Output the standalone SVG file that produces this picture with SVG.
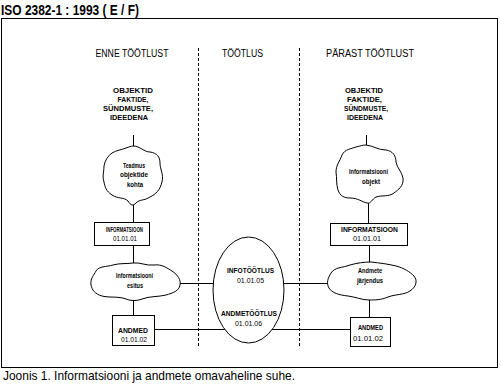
<svg xmlns="http://www.w3.org/2000/svg" width="501" height="386" viewBox="0 0 501 386">
<style>
.ln{stroke:#000;stroke-width:1;fill:none}
.sh{stroke:#000;stroke-width:1;fill:#fff}
.dash{stroke:#000;stroke-width:1;stroke-dasharray:3,2;fill:none}
text{font-family:"Liberation Sans",Arial,sans-serif;fill:#000;text-anchor:middle}
.hd{font-size:10px}
.ob{font-size:8px;font-weight:bold}
.cl{font-size:7.5px;font-weight:bold}
.bx{font-size:8px;font-weight:bold}
.nm{font-size:8px}
</style>
<rect width="501" height="386" fill="#fff"/>
<text x="1" y="15" style="font-size:14px;font-weight:bold;text-anchor:start" textLength="138" lengthAdjust="spacingAndGlyphs">ISO 2382-1 : 1993 ( E / F)</text>
<rect class="ln" x="1.5" y="18.5" width="496" height="349"/>
<g id="dividers">
<line class="dash" x1="198.5" y1="48" x2="198.5" y2="346"/>
<line class="dash" x1="299.5" y1="48" x2="299.5" y2="346"/>
</g>
<g id="headers">
<text class="hd" x="132" y="57" textLength="73" lengthAdjust="spacingAndGlyphs">ENNE TÖÖTLUST</text>
<text class="hd" x="242.5" y="57" textLength="41" lengthAdjust="spacingAndGlyphs">TÖÖTLUS</text>
<text class="hd" x="370" y="57" textLength="88" lengthAdjust="spacingAndGlyphs">PÄRAST TÖÖTLUST</text>
</g>
<g id="connectors">
<line class="ln" x1="133.5" y1="135" x2="133.5" y2="147"/>
<line class="ln" x1="133.5" y1="203" x2="133.5" y2="222"/>
<line class="ln" x1="133.5" y1="245" x2="133.5" y2="263"/>
<line class="ln" x1="133.5" y1="300" x2="133.5" y2="315"/>
<line class="ln" x1="366.5" y1="135" x2="366.5" y2="146"/>
<line class="ln" x1="368.5" y1="202" x2="368.5" y2="223"/>
<line class="ln" x1="369.5" y1="245" x2="369.5" y2="262"/>
<line class="ln" x1="369.5" y1="300" x2="369.5" y2="317"/>
<line class="ln" x1="180" y1="283.5" x2="214" y2="283.5"/>
<line class="ln" x1="283" y1="283.5" x2="328" y2="283.5"/>
<line class="ln" x1="154" y1="329.5" x2="225" y2="329.5"/>
<line class="ln" x1="272" y1="329.5" x2="350" y2="329.5"/>
</g>
<g id="objects-left">
<text class="ob" x="133" y="93" textLength="40" lengthAdjust="spacingAndGlyphs">OBJEKTID</text>
<text class="ob" x="133" y="102" textLength="31" lengthAdjust="spacingAndGlyphs">FAKTIDE,</text>
<text class="ob" x="128" y="111" textLength="50" lengthAdjust="spacingAndGlyphs">SÜNDMUSTE,</text>
<text class="ob" x="129" y="120" textLength="38" lengthAdjust="spacingAndGlyphs">IDEEDENA</text>
</g>
<g id="objects-right">
<text class="ob" x="364" y="93" textLength="38" lengthAdjust="spacingAndGlyphs">OBJEKTID</text>
<text class="ob" x="364.5" y="102" textLength="35" lengthAdjust="spacingAndGlyphs">FAKTIDE,</text>
<text class="ob" x="366" y="111" textLength="44" lengthAdjust="spacingAndGlyphs">SÜNDMUSTE,</text>
<text class="ob" x="365" y="120" textLength="36" lengthAdjust="spacingAndGlyphs">IDEEDENA</text>
</g>
<g id="cloud-teadmus">
<path class="sh" d="M133,146 C140,146 144,152 150,152 C157,153 160,157 160,163 C160,170 164,174 162,182 C160,190 156,194 150,197 C144,201 140,199 136,203 C133,206 131,206 128,201 C124,197 118,199 112,195 C106,191 105,187 104,182 C102,176 104,172 104,166 C105,160 108,156 112,153 C117,150 121,150 126,148 C129,147 131,146 133,146 Z"/>
<text class="cl" x="134" y="168" textLength="22" lengthAdjust="spacingAndGlyphs">Teadmus</text>
<text class="cl" x="134" y="177" textLength="28" lengthAdjust="spacingAndGlyphs">objektide</text>
<text class="cl" x="135" y="187" textLength="16" lengthAdjust="spacingAndGlyphs">kohta</text>
</g>
<g id="box-info-left">
<rect class="sh" x="94.5" y="222.5" width="55" height="23"/>
<text class="bx" x="124.5" y="232" textLength="37" lengthAdjust="spacingAndGlyphs">INFORMATSIOON</text>
<text class="nm" x="125" y="241" textLength="24" lengthAdjust="spacingAndGlyphs">01.01.01</text>
</g>
<g id="cloud-esitus">
<path class="sh" d="M133,263 C140,262 146,266 154,265 C162,264 167,268 172,271 C178,275 181,280 180,285 C179,291 173,293 166,295 C158,297 150,296 142,299 C137,301 131,301 126,299 C118,296 110,298 102,296 C95,294 92,290 91,285 C90,279 94,275 96,271 C99,266 106,267 113,265 C120,263 126,264 133,263 Z"/>
<text class="cl" x="134.5" y="278" textLength="37" lengthAdjust="spacingAndGlyphs">Informatsiooni</text>
<text class="cl" x="135" y="288" textLength="16" lengthAdjust="spacingAndGlyphs">esitus</text>
</g>
<g id="box-andmed-left">
<rect class="sh" x="112.5" y="315.5" width="42" height="30"/>
<text class="bx" x="133" y="333" textLength="30" lengthAdjust="spacingAndGlyphs">ANDMED</text>
<text class="nm" x="134" y="342" textLength="26" lengthAdjust="spacingAndGlyphs">01.01.02</text>
</g>
<g id="ellipse-tootlus">
<ellipse class="sh" cx="248.5" cy="290" rx="35.5" ry="53"/>
<text class="bx" x="250.5" y="273" textLength="47" lengthAdjust="spacingAndGlyphs">INFOTÖÖTLUS</text>
<text class="nm" x="250.5" y="283" textLength="27" lengthAdjust="spacingAndGlyphs">01.01.05</text>
<text class="bx" x="249" y="316" textLength="56" lengthAdjust="spacingAndGlyphs">ANDMETÖÖTLUS</text>
<text class="nm" x="248.5" y="326" textLength="27" lengthAdjust="spacingAndGlyphs">01.01.06</text>
</g>
<g id="cloud-objekt">
<path class="sh" d="M366,145 C374,146 378,150 386,150 C393,151 396,156 396,162 C397,168 402,172 403,178 C404,186 398,190 394,193 C389,197 382,195 376,197 C372,199 371,204 367,203 C362,202 358,198 350,198 C344,198 340,196 338,190 C336,184 337,178 336,172 C336,165 340,161 342,155 C345,149 351,149 356,147 C360,146 363,145 366,145 Z"/>
<text class="cl" x="368.5" y="174" textLength="39" lengthAdjust="spacingAndGlyphs">Informatsiooni</text>
<text class="cl" x="371" y="184" textLength="18" lengthAdjust="spacingAndGlyphs">objekt</text>
</g>
<g id="box-info-right">
<rect class="sh" x="330.5" y="223.5" width="77" height="22"/>
<text class="bx" x="369.5" y="232" textLength="57" lengthAdjust="spacingAndGlyphs">INFORMATSIOON</text>
<text class="nm" x="367" y="241" textLength="28" lengthAdjust="spacingAndGlyphs">01.01.01</text>
</g>
<g id="cloud-jarjendus">
<path class="sh" d="M371,262 C380,263 388,264 396,266 C404,268 410,272 414,276 C418,281 416,287 410,291 C404,295 396,294 388,297 C381,300 375,300 369,300 C362,300 356,297 348,296 C339,295 332,293 329,288 C326,283 328,278 331,273 C335,267 342,268 350,265 C357,263 364,262 371,262 Z"/>
<text class="cl" x="370" y="273" textLength="24" lengthAdjust="spacingAndGlyphs">Andmete</text>
<text class="cl" x="370" y="283" textLength="26" lengthAdjust="spacingAndGlyphs">järjendus</text>
</g>
<g id="box-andmed-right">
<rect class="sh" x="350.5" y="317.5" width="40" height="29"/>
<text class="bx" x="370.5" y="330" textLength="25" lengthAdjust="spacingAndGlyphs">ANDMED</text>
<text class="nm" x="368" y="341" textLength="30" lengthAdjust="spacingAndGlyphs">01.01.02</text>
</g>
<text x="3" y="380" style="font-size:13px;text-anchor:start" textLength="292" lengthAdjust="spacingAndGlyphs">Joonis 1. Informatsiooni ja andmete omavaheline suhe.</text>
</svg>
